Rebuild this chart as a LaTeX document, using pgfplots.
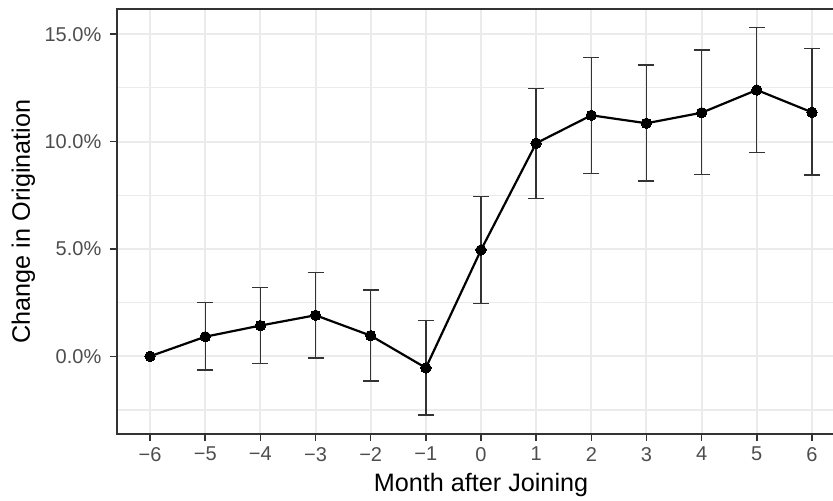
\documentclass[border=0pt]{standalone}
\usepackage{fontspec}
\setmainfont{Liberation Sans}
\usepackage{pgfplots}
\pgfplotsset{compat=1.18}
\usepackage{pgfplotstable}
\definecolor{gridc}{HTML}{EBEBEB}
\definecolor{border}{HTML}{333333}
\definecolor{ticklab}{HTML}{4D4D4D}

\pgfplotstableread{
x y ep em
-5 0.91 1.60 1.55
-4 1.43 1.78 1.76
-3 1.91 1.98 1.99
-2 0.96 2.13 2.11
-1 -0.54 2.20 2.19
0 4.95 2.48 2.48
1 9.92 2.56 2.56
2 11.22 2.70 2.70
3 10.85 2.71 2.69
4 11.34 2.92 2.87
5 12.40 2.90 2.92
6 11.36 2.98 2.92
}\errdata

\pgfplotstableread{
x y
-6 0.00
-5 0.91
-4 1.43
-3 1.91
-2 0.96
-1 -0.54
0 4.95
1 9.92
2 11.22
3 10.85
4 11.34
5 12.40
6 11.36
}\pointdata

\begin{document}
\begin{tikzpicture}
\begin{axis}[
  at={(0,0)}, anchor=south west,
  scale only axis, width=364pt, height=212.5pt,
  xmin=-6.6, xmax=6.6, ymin=-3.62, ymax=16.17,
  xtick={-6,-5,-4,-3,-2,-1,0,1,2,3,4,5,6},
  xticklabels={−6,−5,−4,−3,−2,−1,0,1,2,3,4,5,6},
  ytick={0,5,10,15},
  yticklabels={0.0\%,5.0\%,10.0\%,15.0\%},
  minor ytick={-2.5,2.5,7.5,12.5},
  grid=both,
  major grid style={color=gridc, line width=1pt},
  minor grid style={color=gridc, line width=0.55pt},
  axis line style={color=border, line width=0.75pt},
  tick align=outside, major tick length=3.3pt, minor tick length=0pt,
  tick style={color=border, line width=0.75pt},
  xtick pos=left, ytick pos=left,
  tick label style={font=\fontsize{10}{12}\selectfont, text=ticklab},
  yticklabel style={anchor=east, inner sep=0pt, xshift=-4.35pt},
  xticklabel style={anchor=north, inner sep=0pt, yshift=-3.05pt},
  xlabel={Month after Joining},
  ylabel={Change in Origination},
  label style={font=\fontsize{12.6}{14}\selectfont, inner sep=0pt},
  xlabel style={at={(axis description cs:0.5,-0.136)}, anchor=base},
  ylabel style={at={(axis description cs:-0.1195,0.5)}, anchor=base},
  clip=false,
]
\addplot[draw=none, mark=none,
  error bars/.cd, y dir=both, y explicit,
  error bar style={line width=0.7pt, color=border},
  error mark options={rotate=90, line width=0.7pt, mark size=4pt, color=border}]
  table[x=x, y=y, y error plus=ep, y error minus=em] {\errdata};
\addplot[black, line width=1.1pt, mark=*, mark size=2.6pt,
  mark options={fill=black, draw=black, line width=0pt}]
  table[x=x, y=y] {\pointdata};
\end{axis}
\pgfresetboundingbox
\useasboundingbox (-58.5pt,-33pt) rectangle (358pt,217pt);
\end{tikzpicture}
\end{document}
